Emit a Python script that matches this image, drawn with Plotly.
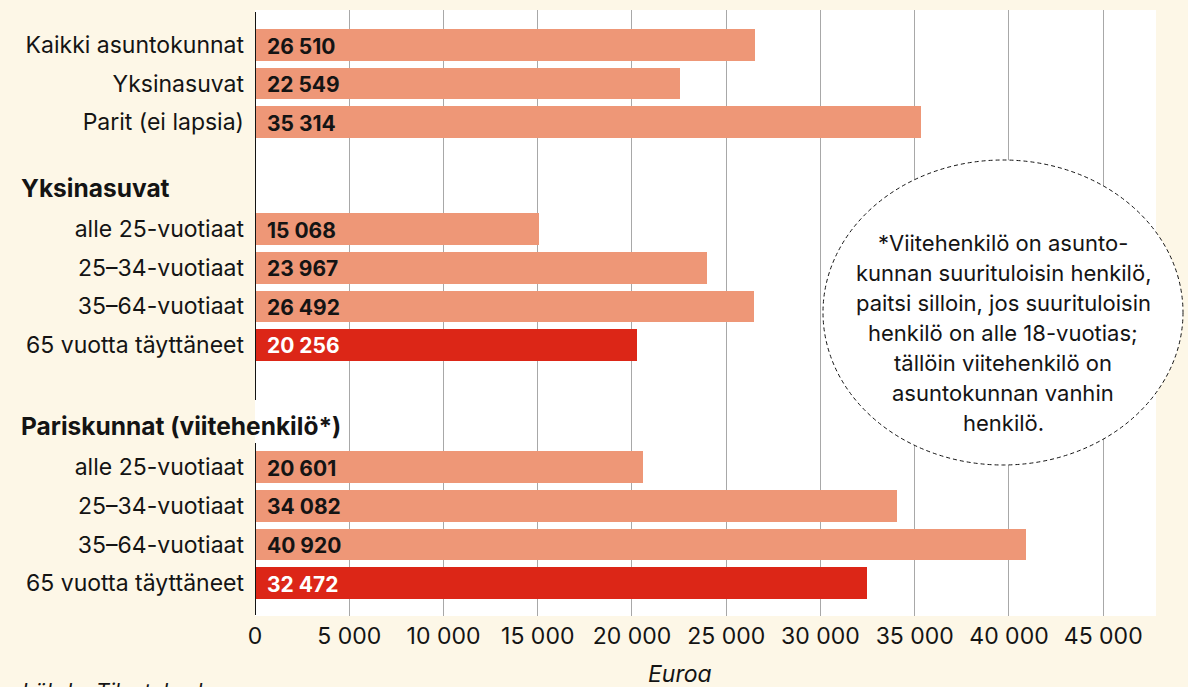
import plotly.graph_objects as go

CREAM = '#fdf7e7'
SALMON = '#ee9777'
RED = '#dc2617'
INK = '#141414'
FONT = 'Inter, Roboto, sans-serif'

# data
labels = [
    'Kaikki asuntokunnat', 'Yksinasuvat', 'Parit (ei lapsia)',
    'alle 25-vuotiaat', '25–34-vuotiaat', '35–64-vuotiaat', '65 vuotta täyttäneet',
    'alle 25-vuotiaat', '25–34-vuotiaat', '35–64-vuotiaat', '65 vuotta täyttäneet',
]
values = [26510, 22549, 35314,
          15068, 23967, 26492, 20256,
          20601, 34082, 40920, 32472]
highlight = [False, False, False,
             False, False, False, True,
             False, False, False, True]
group_sizes = [3, 4, 4]
group_titles = ['', 'Yksinasuvat', 'Pariskunnat (viitehenkilö*)']
note_lines = [
    '*Viitehenkilö on asunto-',
    'kunnan suurituloisin henkilö,',
    'paitsi silloin, jos suurituloisin',
    'henkilö on alle 18-vuotias;',
    'tällöin viitehenkilö on',
    'asuntokunnan vanhin',
    'henkilö.',
]
x_ticks = list(range(0, 45001, 5000))

# layout of rows (row units, reversed axis)
group_starts = [0, 4.77, 10.94]
pos = []
for start, n in zip(group_starts, group_sizes):
    pos += [start + i for i in range(n)]

W, H = 1188, 687
L, R, T, B = 255, 32, 10, 71
ROW = 38.6
Y_TOP = (T - 45) / ROW
Y_BOT = (H - B - 45) / ROW


def py(pix):
    # pixel y -> paper y
    return 1 - (pix - T) / (H - T - B)


def px_(pix):
    return (pix - L) / (W - L - R)


fig = go.Figure(go.Bar(
    x=values, y=pos, orientation='h', width=0.82,
    marker=dict(color=[RED if h else SALMON for h in highlight], line=dict(width=0)),
    hoverinfo='skip',
))

fmt = lambda v: f'{v:,}'.replace(',', ' ')
for v, p, h in zip(values, pos, highlight):
    fig.add_annotation(x=0, y=p, xref='x', yref='y', text=f'<b>{fmt(v)}</b>',
                       showarrow=False, xanchor='left', xshift=10, yshift=-1,
                       font=dict(size=21, color='white' if h else INK, family=FONT))

for title, start in zip(group_titles, group_starts):
    if title:
        fig.add_annotation(x=px_(19), y=start - 1.07, xref='paper', yref='y',
                           text=f'<b>{title}</b>', showarrow=False, xanchor='left',
                           font=dict(size=24.5, color=INK, family=FONT))

# broken y axis line
for y0, y1 in [(12, 400), (443, 615)]:
    fig.add_shape(type='line', xref='x', yref='y', x0=0, x1=0,
                  y0=(y0 - 45) / ROW, y1=(y1 - 45) / ROW,
                  line=dict(color=INK, width=2))

# note ellipse
fig.add_shape(type='circle', xref='paper', yref='paper',
              x0=px_(823), x1=px_(1183), y0=py(465), y1=py(160),
              fillcolor='white', line=dict(color=INK, width=1, dash='4px,3px'),
              layer='above')
for i, line in enumerate(note_lines):
    fig.add_annotation(x=px_(1003), y=py(243 + i * 30), xref='paper', yref='paper',
                       text=line, showarrow=False, xanchor='center', yanchor='middle',
                       font=dict(size=22, color=INK, family=FONT))

fig.add_annotation(x=px_(680), y=py(674), xref='paper', yref='paper', text='<i>Euroa</i>',
                   showarrow=False, xanchor='center', yanchor='middle',
                   font=dict(size=23, color=INK, family=FONT))
fig.add_annotation(x=px_(20), y=py(677), xref='paper', yref='paper',
                   text='<i>Lähde: Tilastokeskus</i>', showarrow=False,
                   xanchor='left', yanchor='top',
                   font=dict(size=21, color=INK, family=FONT))

fig.update_layout(
    width=W, height=H,
    margin=dict(l=L, r=R, t=T, b=B),
    paper_bgcolor=CREAM, plot_bgcolor='white',
    font=dict(family=FONT, size=20, color=INK),
    separators=', ',
    showlegend=False,
    bargap=0,
)
fig.update_xaxes(range=[0, 47800], tickvals=x_ticks, tickformat=',d',
                 showgrid=True, gridcolor='#a8a8a8', gridwidth=1,
                 zeroline=False, showline=False, ticks='', ticklabelstandoff=4,
                 tickfont=dict(size=23, color=INK), fixedrange=True)
fig.update_yaxes(range=[Y_BOT, Y_TOP], tickvals=pos, ticktext=labels,
                 showgrid=False, zeroline=False, showline=False, ticks='',
                 ticklabelstandoff=10, tickfont=dict(size=23, color=INK), fixedrange=True)

fig.write_html('out.html', config={'displayModeBar': False},
               post_script="document.body.style.margin='0';"
                           f"document.body.style.background='{CREAM}';")
